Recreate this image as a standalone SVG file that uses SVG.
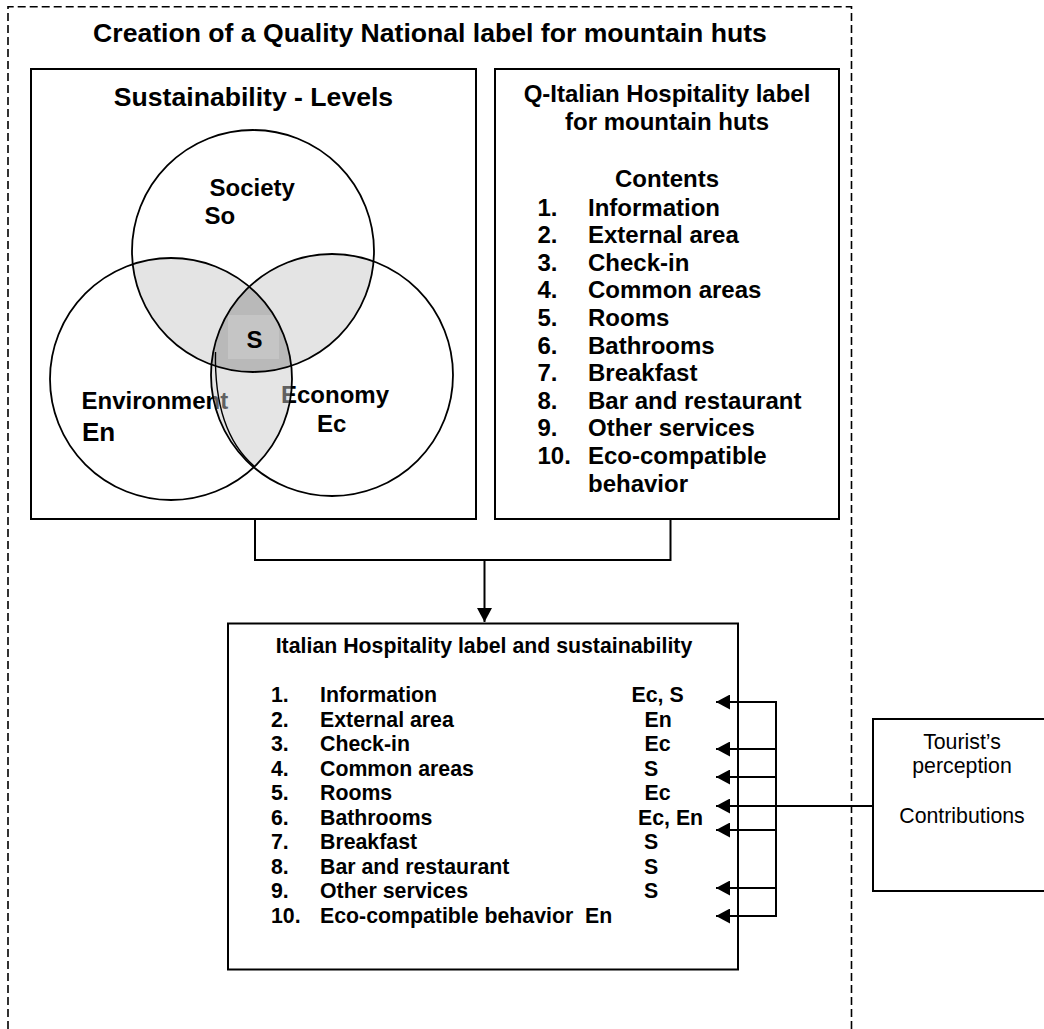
<svg xmlns="http://www.w3.org/2000/svg" width="1044" height="1029" viewBox="0 0 1044 1029">
<style>
.t{font-family:"Liberation Sans",Arial,Helvetica,sans-serif;font-weight:bold;fill:#000}
.r{font-family:"Liberation Sans",Arial,Helvetica,sans-serif;font-weight:normal;fill:#000}
.box{fill:#fff;stroke:#000;stroke-width:2}
.ln{fill:none;stroke:#000;stroke-width:2}
.circ{fill:none;stroke:#000;stroke-width:1.8}
.light{fill:#e4e4e4}
.dark{fill:#b9b9b9}
</style>
<defs>
<marker id="ah" markerUnits="userSpaceOnUse" markerWidth="15" markerHeight="15" refX="14" refY="7.5" orient="auto" viewBox="0 0 15 15">
<path d="M0,0 L14,7.5 L0,15 Z" fill="#000"/>
</marker>
<clipPath id="cT"><circle cx="253" cy="251" r="121"/></clipPath>
<clipPath id="cL"><circle cx="171" cy="379" r="121"/></clipPath>
<clipPath id="cR"><circle cx="332" cy="375" r="121"/></clipPath>
<mask id="mNT" maskUnits="userSpaceOnUse" x="0" y="0" width="1044" height="1029">
<rect x="0" y="0" width="1044" height="1029" fill="#fff"/>
<circle cx="253" cy="251" r="121" fill="#000"/>
</mask>
</defs>
<rect x="0" y="0" width="1044" height="1029" fill="#fff"/>

<g id="frame">
<path d="M8,1029 V6.7 H851.5 V1029" fill="none" stroke="#000" stroke-width="1.6" stroke-dasharray="8,4"/>
<text class="t" x="430" y="41.5" font-size="26.6" text-anchor="middle">Creation of a Quality National label for mountain huts</text>
</g>

<g id="sustainability-levels">
<rect class="box" x="31" y="69" width="445" height="450"/>
<text class="t" x="253.5" y="106" font-size="26.6" text-anchor="middle">Sustainability - Levels</text>
<g clip-path="url(#cT)"><circle class="light" cx="171" cy="379" r="121"/><circle class="light" cx="332" cy="375" r="121"/></g>
<g clip-path="url(#cT)"><g clip-path="url(#cL)"><circle class="dark" cx="332" cy="375" r="121"/>
<rect x="228" y="315" width="51" height="44" fill="#c5c5c5"/></g></g>
<text class="t" x="209.5" y="195.5" font-size="24">Society</text>
<text class="t" x="204.5" y="223.5" font-size="24">So</text>
<text class="t" x="246.5" y="348.3" font-size="24">S</text>
<text class="t" x="81.5" y="409.3" font-size="24">Environment</text>
<text class="t" x="82" y="441" font-size="26">En</text>
<text class="t" x="281" y="402.8" font-size="24">Economy</text>
<text class="t" x="317" y="431.5" font-size="24">Ec</text>
<g clip-path="url(#cL)"><circle cx="332" cy="375" r="121" fill="#c8c8c8" fill-opacity="0.48" mask="url(#mNT)"/></g>
<circle class="circ" cx="253" cy="251" r="121"/>
<circle class="circ" cx="171" cy="379" r="121"/>
<circle class="circ" cx="332" cy="375" r="121"/>
<path d="M215.5,352 C214.5,400 224,440 254,466" fill="none" stroke="#000" stroke-width="1.4"/>
</g>

<g id="q-label">
<rect class="box" x="495" y="69" width="344" height="450"/>
<text class="t" font-size="24" text-anchor="middle"><tspan x="667" y="102">Q-Italian Hospitality label</tspan><tspan x="667" y="129.5">for mountain huts</tspan><tspan x="667" y="187">Contents</tspan></text>
<g class="t" font-size="24">
<text x="537.5" y="215.5">1.</text><text x="588" y="215.5">Information</text>
<text x="537.5" y="243.1">2.</text><text x="588" y="243.1">External area</text>
<text x="537.5" y="270.7">3.</text><text x="588" y="270.7">Check-in</text>
<text x="537.5" y="298.3">4.</text><text x="588" y="298.3">Common areas</text>
<text x="537.5" y="325.9">5.</text><text x="588" y="325.9">Rooms</text>
<text x="537.5" y="353.5">6.</text><text x="588" y="353.5">Bathrooms</text>
<text x="537.5" y="381.1">7.</text><text x="588" y="381.1">Breakfast</text>
<text x="537.5" y="408.7">8.</text><text x="588" y="408.7">Bar and restaurant</text>
<text x="537.5" y="436.3">9.</text><text x="588" y="436.3">Other services</text>
<text x="537.5" y="463.9">10.</text><text x="588" y="463.9">Eco-compatible</text>
<text x="588" y="491.5">behavior</text>
</g>
</g>

<g id="hospitality-sustainability">
<rect class="box" x="228" y="623.5" width="510" height="346"/>
<text class="t" x="484" y="653.3" font-size="21.3" text-anchor="middle">Italian Hospitality label and sustainability</text>
<g class="t" font-size="21.3">
<text x="271" y="702.3">1.</text><text x="320" y="702.3">Information</text><text x="631.5" y="702.3">Ec, S</text>
<text x="271" y="726.8">2.</text><text x="320" y="726.8">External area</text><text x="644.5" y="726.8">En</text>
<text x="271" y="751.3">3.</text><text x="320" y="751.3">Check-in</text><text x="644.5" y="751.3">Ec</text>
<text x="271" y="775.8">4.</text><text x="320" y="775.8">Common areas</text><text x="644" y="775.8">S</text>
<text x="271" y="800.3">5.</text><text x="320" y="800.3">Rooms</text><text x="644.5" y="800.3">Ec</text>
<text x="271" y="824.8">6.</text><text x="320" y="824.8">Bathrooms</text><text x="638" y="824.8">Ec, En</text>
<text x="271" y="849.3">7.</text><text x="320" y="849.3">Breakfast</text><text x="644" y="849.3">S</text>
<text x="271" y="873.8">8.</text><text x="320" y="873.8">Bar and restaurant</text><text x="644" y="873.8">S</text>
<text x="271" y="898.3">9.</text><text x="320" y="898.3">Other services</text><text x="644" y="898.3">S</text>
<text x="271" y="922.8">10.</text><text x="320" y="922.8">Eco-compatible behavior</text><text x="585" y="922.8">En</text>
</g>
</g>

<g id="tourist">
<rect class="box" x="873" y="719" width="190" height="172"/>
<text class="r" font-size="21.3" text-anchor="middle"><tspan x="962" y="749.3">Tourist’s</tspan><tspan x="962" y="773.3">perception</tspan><tspan x="962" y="823.3">Contributions</tspan></text>
</g>

<g id="connectors">
<path class="ln" d="M255,519 V560 H670.5 V519"/>
<path class="ln" d="M484.5,560 V622" marker-end="url(#ah)"/>
<path class="ln" d="M776,701 V917"/>
<path class="ln" d="M776,702 H716" marker-end="url(#ah)"/>
<path class="ln" d="M776,749 H716" marker-end="url(#ah)"/>
<path class="ln" d="M776,777 H716" marker-end="url(#ah)"/>
<path class="ln" d="M873,806 H716" marker-end="url(#ah)"/>
<path class="ln" d="M776,830 H716" marker-end="url(#ah)"/>
<path class="ln" d="M776,888 H716" marker-end="url(#ah)"/>
<path class="ln" d="M776,916 H716" marker-end="url(#ah)"/>
</g>
</svg>
